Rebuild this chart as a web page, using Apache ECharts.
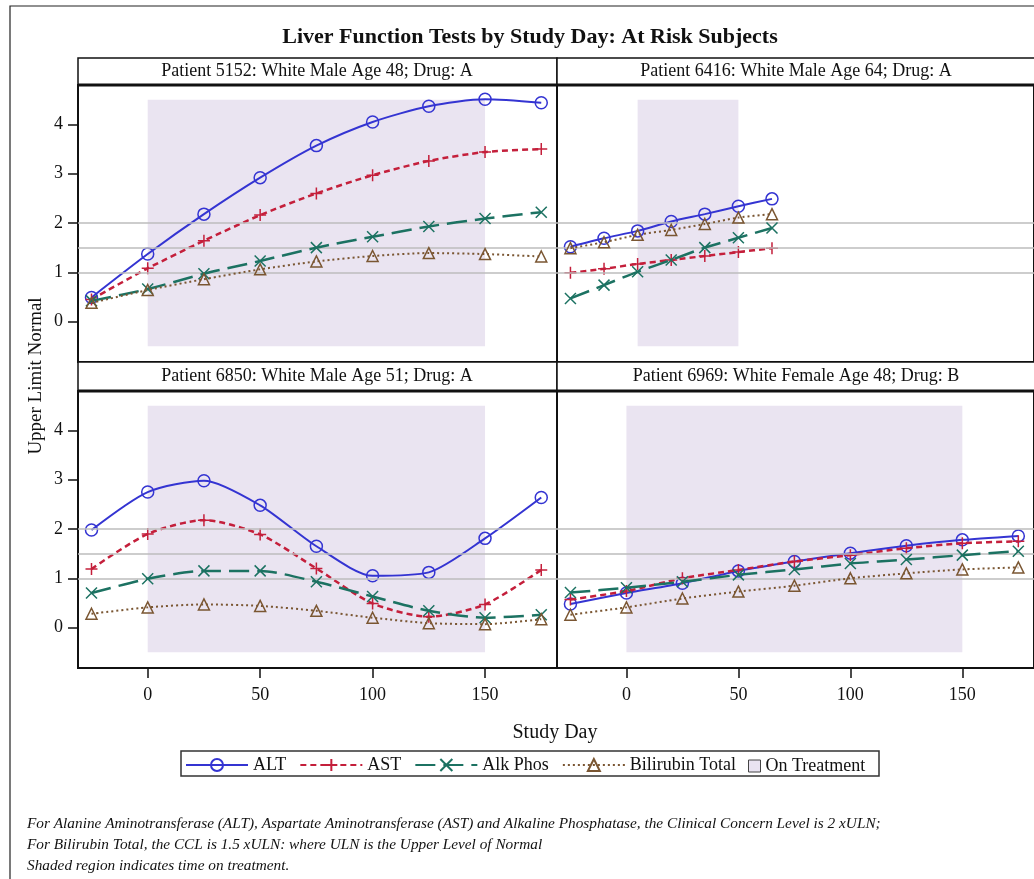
<!DOCTYPE html>
<html>
<head>
<meta charset="utf-8">
<script src="https://cdn.jsdelivr.net/npm/echarts@6/dist/echarts.min.js"></script>
<style>
  html, body { margin: 0; padding: 0; background: #fff; }
  #main { width: 1034px; height: 879px; }
</style>
</head>
<body>
<div id="main"></div>
<script>
// study days
const days = [-25, 0, 25, 50, 75, 100, 125, 150, 175];
const days6416 = [-25, -10, 5, 20, 35, 50, 65];

// Patient 5152
const alt5152 = [0.49, 1.37, 2.18, 2.92, 3.57, 4.05, 4.37, 4.51, 4.44];
const ast5152 = [0.45, 1.08, 1.64, 2.16, 2.60, 2.97, 3.26, 3.44, 3.50];
const alk5152 = [0.42, 0.66, 0.97, 1.23, 1.50, 1.72, 1.93, 2.09, 2.22];
const bili5152 = [0.38, 0.64, 0.86, 1.06, 1.22, 1.33, 1.39, 1.37, 1.32];

// Patient 6416
const alt6416 = [1.52, 1.69, 1.84, 2.03, 2.18, 2.34, 2.49];
const ast6416 = [0.99, 1.07, 1.17, 1.25, 1.33, 1.41, 1.49];
const alk6416 = [0.47, 0.74, 1.01, 1.25, 1.50, 1.70, 1.90];
const bili6416 = [1.49, 1.61, 1.76, 1.86, 1.98, 2.11, 2.18];

// Patient 6850
const alt6850 = [1.98, 2.75, 2.98, 2.48, 1.65, 1.05, 1.12, 1.81, 2.64];
const ast6850 = [1.19, 1.90, 2.18, 1.89, 1.20, 0.49, 0.22, 0.47, 1.17];
const alk6850 = [0.70, 0.99, 1.15, 1.15, 0.93, 0.63, 0.34, 0.20, 0.26];
const bili6850 = [0.28, 0.41, 0.47, 0.44, 0.34, 0.20, 0.09, 0.07, 0.17];

// Patient 6969
const alt6969 = [0.48, 0.70, 0.90, 1.15, 1.34, 1.51, 1.66, 1.78, 1.86];
const ast6969 = [0.57, 0.74, 1.00, 1.17, 1.34, 1.47, 1.61, 1.71, 1.75];
const alk6969 = [0.71, 0.81, 0.93, 1.07, 1.18, 1.30, 1.38, 1.47, 1.55];
const bili6969 = [0.26, 0.41, 0.59, 0.73, 0.85, 1.00, 1.10, 1.18, 1.22];

// treatment windows (study day start/end) and shaded height
const treat5152 = [0, 150];
const treat6416 = [5, 50];
const treat6850 = [0, 150];
const treat6969 = [0, 150];
const shadeY = [-0.5, 4.5];

const refLevels = [1, 1.5, 2];
const xTicks = [0, 50, 100, 150];
const yTicks = [0, 1, 2, 3, 4];

const panelTitles = [
  "Patient 5152: White Male Age 48; Drug: A",
  "Patient 6416: White Male Age 64; Drug: A",
  "Patient 6850: White Male Age 51; Drug: A",
  "Patient 6969: White Female Age 48; Drug: B",
];
const footnotes = [
  "For Alanine Aminotransferase (ALT), Aspartate Aminotransferase (AST) and Alkaline Phosphatase, the Clinical Concern Level is 2 xULN;",
  "For Bilirubin Total, the CCL is 1.5 xULN: where ULN is the Upper Level of Normal",
  "Shaded region indicates time on treatment.",
];

const SERIF = "'Liberation Serif', 'Times New Roman', serif";

const tests = [
  { name: "ALT", color: "#3434D2", symbol: "circle", size: 12, type: "solid", width: 2 },
  { name: "AST", color: "#C41F3B", symbol: "path://M6,0 L6,12 M0,6 L12,6", size: 12, type: [6, 4], width: 2.5 },
  { name: "Alk Phos", color: "#1C7262", symbol: "path://M0,0 L12,12 M12,0 L0,12", size: 11, type: [20, 8], width: 2.5 },
  { name: "Bilirubin Total", color: "#7A5632", symbol: "triangle", size: 11, type: [2, 3], width: 2 },
];

// grid boxes: [left, top, width, height]
const boxes = [
  [78, 85, 479, 277],
  [557, 85, 480, 277],
  [78, 391, 479, 277],
  [557, 391, 480, 277],
];
const headers = [
  [78, 58, 479, 27],
  [557, 58, 480, 27],
  [78, 362, 479, 29],
  [557, 362, 480, 29],
];

const panels = [
  { xs: days, vals: [alt5152, ast5152, alk5152, bili5152], treat: treat5152 },
  { xs: days6416, vals: [alt6416, ast6416, alk6416, bili6416], treat: treat6416 },
  { xs: days, vals: [alt6850, ast6850, alk6850, bili6850], treat: treat6850 },
  { xs: days, vals: [alt6969, ast6969, alk6969, bili6969], treat: treat6969 },
];

const chart = echarts.init(document.getElementById("main"));

const grid = boxes.map(b => ({
  left: b[0], top: b[1], width: b[2], height: b[3],
  show: true, borderColor: "#111", borderWidth: 2, containLabel: false,
}));

const xAxis = boxes.map((b, i) => ({
  type: "value", gridIndex: i, min: -31, max: 182, position: "bottom",
  axisLine: { show: false, onZero: false },
  splitLine: { show: false },
  axisTick: { show: i >= 2, length: 10, customValues: xTicks, lineStyle: { color: "#111", width: 1.5 } },
  axisLabel: { show: i >= 2, customValues: xTicks, margin: 18, color: "#111", fontFamily: SERIF, fontSize: 18 },
}));

const yAxis = boxes.map((b, i) => ({
  type: "value", gridIndex: i, min: -0.82, max: 4.8, position: "left",
  axisLine: { show: false, onZero: false },
  splitLine: { show: false },
  axisTick: { show: i % 2 === 0, length: 10, customValues: yTicks, lineStyle: { color: "#111", width: 1.5 } },
  axisLabel: { show: i % 2 === 0, customValues: yTicks, margin: 15, color: "#111", fontFamily: SERIF, fontSize: 18 },
}));

const series = [];
panels.forEach((p, i) => {
  // shaded treatment period + reference lines
  series.push({
    name: "On Treatment", type: "line", xAxisIndex: i, yAxisIndex: i, data: [],
    itemStyle: { color: "#E9E3F1" },
    silent: true,
    markArea: {
      silent: true,
      itemStyle: { color: "#EAE4F1" },
      data: [[{ coord: [p.treat[0], shadeY[1]] }, { coord: [p.treat[1], shadeY[0]] }]],
    },
    markLine: {
      silent: true, symbol: "none", label: { show: false },
      lineStyle: { color: "#BDBDBD", width: 1.5, type: "solid" },
      data: refLevels.map(v => ({ yAxis: v })),
    },
  });
  tests.forEach((t, k) => {
    series.push({
      name: t.name, type: "line", xAxisIndex: i, yAxisIndex: i,
      data: p.xs.map((d, j) => [d, p.vals[k][j]]),
      smooth: 0.25,
      symbol: t.symbol, symbolSize: t.size,
      itemStyle: { color: "transparent", borderColor: t.color, borderWidth: 1.5 },
      lineStyle: { color: t.color, width: t.width, type: t.type },
      z: 3 + k,
    });
  });
});

const graphic = [
  { type: "rect", shape: { x: 10, y: 6, width: 1100, height: 1000 }, style: { fill: "none", stroke: "#222", lineWidth: 1.2 }, silent: true },
  { type: "text", x: 530, y: 37, style: { text: "Liver Function Tests by Study Day: At Risk Subjects", font: "bold 22px " + SERIF, fill: "#111", textAlign: "center", textVerticalAlign: "middle" } },
  { type: "text", x: 36, y: 376, rotation: Math.PI / 2, style: { text: "Upper Limit Normal", font: "19px " + SERIF, fill: "#111", textAlign: "center", textVerticalAlign: "middle" } },
  { type: "text", x: 555, y: 733, style: { text: "Study Day", font: "20px " + SERIF, fill: "#111", textAlign: "center", textVerticalAlign: "middle" } },
  { type: "rect", shape: { x: 181, y: 751, width: 698, height: 25 }, style: { fill: "none", stroke: "#333", lineWidth: 1.5 } },
];
headers.forEach((h, i) => {
  graphic.push({ type: "rect", shape: { x: h[0], y: h[1], width: h[2], height: h[3] }, style: { fill: "#fff", stroke: "#111", lineWidth: 1.5 } });
  graphic.push({ type: "line", shape: { x1: h[0], y1: h[1] + h[3], x2: h[0] + h[2], y2: h[1] + h[3] }, style: { stroke: "#111", lineWidth: 3 } });
  graphic.push({ type: "text", x: h[0] + 239, y: h[1] + h[3] / 2, style: { text: panelTitles[i], font: "18px " + SERIF, fill: "#111", textAlign: "center", textVerticalAlign: "middle" } });
});
footnotes.forEach((f, i) => {
  graphic.push({ type: "text", x: 27, y: 824 + i * 21, style: { text: f, font: "italic 15.3px " + SERIF, fill: "#111", textAlign: "left", textVerticalAlign: "middle" } });
});

chart.setOption({
  animation: false,
  backgroundColor: "#fff",
  grid, xAxis, yAxis, series, graphic,
  legend: [
    {
      data: tests.map(t => t.name),
      left: 185, top: 756, padding: 0,
      itemWidth: 62, itemHeight: 15, itemGap: 13,
      textStyle: { fontFamily: SERIF, fontSize: 18, color: "#111" },
      selectedMode: false,
    },
    {
      data: [{ name: "On Treatment", icon: "rect", itemStyle: { color: "#E9E3F1", borderColor: "#444", borderWidth: 1 } }],
      left: 748, top: 757, padding: 0,
      itemWidth: 12, itemHeight: 12,
      textStyle: { fontFamily: SERIF, fontSize: 18, color: "#111" },
      selectedMode: false,
    },
  ],
});
</script>
</body>
</html>
